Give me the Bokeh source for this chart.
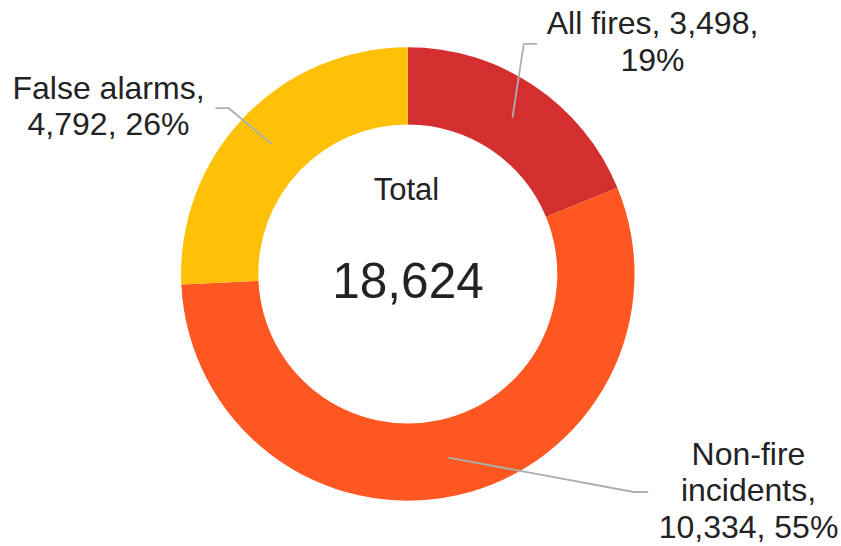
import math
from bokeh.plotting import figure
from bokeh.models import Range1d, ColumnDataSource
from bokeh.core.properties import value
from bokeh.embed import file_html
from bokeh.resources import INLINE

# ---- data ----
categories = ["All fires", "Non-fire incidents", "False alarms"]
counts = [3498, 10334, 4792]
colors = ["#D32F2F", "#FF5722", "#FFC107"]
center_title = "Total"
# words per label line
line_breaks = [[3, 1], [1, 1, 2], [2, 2]]

# ---- layout (reference pixel positions) ----
CX, CY = 407.3, 273.5          # donut centre in page pixels
R_OUT, R_IN = 226.7, 149.5
W, H = 841, 546
OX, OY = 0, 0                  # page offset of the plot
BASE_FIX = 0.4                 # baseline correction (fraction of font size)
LABEL_PX = 32
label_anchor = [(652, 35, 37.5), (748, 466, 36.7), (108, 100.7, 35.5)]  # cx, first baseline, line step
leader_elbow = [((523.3, 43.3), (536.7, 43.3)),
                ((633.3, 491.5), (647.7, 491.5)),
                ((228.3, 107.7), (215.0, 107.7))]

def X(px):
    return px - CX

def Y(py):
    return CY - py

def YT(py, size):
    return Y(py - BASE_FIX * size)

total = sum(counts)
fracs = [c / total for c in counts]
starts, ends = [], []
cum = 0.0
for f in fracs:
    # clockwise from 12 o'clock
    ends.append(math.pi / 2 - cum * 2 * math.pi)
    cum += f
    starts.append(math.pi / 2 - cum * 2 * math.pi)

p = figure(width=W, height=H, output_backend="svg", toolbar_location=None,
           x_range=Range1d(X(OX), X(OX + W)), y_range=Range1d(Y(OY + H), Y(OY)),
           x_axis_location=None, y_axis_location=None, min_border=0,
           outline_line_color=None, background_fill_color="white",
           border_fill_color="white")
p.grid.visible = False

src = ColumnDataSource(dict(cat=categories, start=starts, end=ends, color=colors))
p.annular_wedge(x=0, y=0, inner_radius=R_IN, outer_radius=R_OUT,
                start_angle="start", end_angle="end", color="color",
                line_color=None, source=src)

font = value("Liberation Sans")
txt_color = "#232323"

# leaders and labels
for i, cat in enumerate(categories):
    mid = (starts[i] + ends[i]) / 2
    rm = (R_IN + R_OUT) / 2
    sx, sy = rm * math.cos(mid), rm * math.sin(mid)
    (ex1, ey1), (ex2, ey2) = leader_elbow[i]
    p.line([sx, X(ex1), X(ex2)], [sy, Y(ey1), Y(ey2)],
           line_color="#A9B1AD", line_width=1.8)

    pct = round(100 * counts[i] / total)
    words = f"{cat}, {counts[i]:,}, {pct}%".split(" ")
    lines, k = [], 0
    for n in line_breaks[i]:
        lines.append(" ".join(words[k:k + n]))
        k += n
    cx, by, step = label_anchor[i]
    p.text(x=[X(cx)] * len(lines),
           y=[YT(by + j * step, LABEL_PX) for j in range(len(lines))],
           text=lines, text_font=font, text_font_size=value(f"{LABEL_PX}px"),
           text_align="center", text_baseline="alphabetic", text_color=txt_color)

p.text(x=[X(406)], y=[YT(201.7, 31)], text=[center_title], text_font=font,
       text_font_size=value("31px"), text_align="center",
       text_baseline="alphabetic", text_color=txt_color)
p.text(x=[X(407.5)], y=[YT(300, 49.5)], text=[f"{total:,}"], text_font=font,
       text_font_size=value("49.5px"), text_align="center",
       text_baseline="alphabetic", text_color=txt_color)

open("out.html", "w").write(file_html(p, INLINE))
